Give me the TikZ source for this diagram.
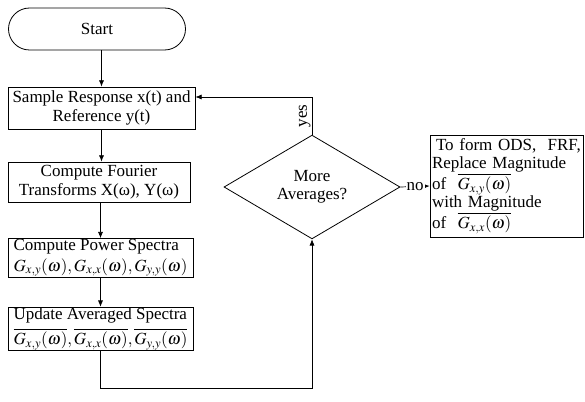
\documentclass[tikz,border=0pt]{standalone}
\usepackage{amsmath,amssymb}
\usepackage{mathptmx}
\usepackage{fontspec}
\setmainfont{Liberation Serif}
\usepackage{tikz}
\usetikzlibrary{calc, arrows.meta, shapes.geometric}
\tikzset{>={Latex[width=1.8mm,length=2.2mm]}}
\tikzset{
	flowbox/.style={draw, line width=0.8pt, inner sep=2pt, font=\fontsize{17}{18.5}\selectfont},
	flowline/.style={line width=0.7pt},
	flowlabel/.style={font=\fontsize{17}{18.5}\selectfont, inner sep=1pt}
}

\begin{document}
\begin{tikzpicture}[x=1pt,y=-1pt]
	\useasboundingbox (0,0) rectangle (585,401);
	\node[flowbox, rounded corners=21pt, minimum width=177pt, minimum height=42pt] (start) at (97,29) {Start};
	\node[flowbox, minimum width=187pt, minimum height=42pt, align=center] (sample) at (101.5,108) {Sample Response x(t) and\\Reference y(t)};
	\node[flowbox, minimum width=182pt, minimum height=40pt, align=center] (fourier) at (99,182) {Compute Fourier\\Transforms X(ω), Y(ω)};
	\node[flowbox, inner ysep=1pt, minimum width=185pt, minimum height=38pt, align=left] (power) at (100.5,258) {Compute Power Spectra\\[2pt]$G_{x,y}(\omega), G_{x,x}(\omega), G_{y,y}(\omega)$};
	\node[flowbox, inner ysep=1pt, minimum width=185pt, minimum height=42pt, align=left] (update) at (100.5,329) {Update Averaged Spectra\\[4pt]$\overline{G_{x,y}(\omega)}, \overline{G_{x,x}(\omega)}, \overline{G_{y,y}(\omega)}$};
	\node[flowbox, diamond, minimum width=176pt, minimum height=74pt, inner sep=0pt, align=center] (more) at (312,187) {More\\Averages?};
	\node[flowbox, minimum width=153pt, minimum height=102pt, text width=149pt, align=left] (form) at (506.5,186) {\hspace{4pt}To form ODS,\ \ FRF,\\Replace Magnitude\\of\ \ $\overline{G_{x,y}(\omega)}$\\with Magnitude\\of\ \ $\overline{G_{x,x}(\omega)}$};
	\coordinate (turn) at (312,388);

	% main chain
	\draw[flowline,->] (start.south -| sample.north) -- (sample.north);
	\draw[flowline,->] (sample.south) -- (sample.south |- fourier.north);
	\draw[flowline,->] (fourier.south -| power.north) -- (power.north);
	\draw[flowline,->] (power.south) -- (update.north);
	% averaging loop
	\draw[flowline,->] (update.south) |- (turn) -- (more.south);
	\draw[flowline,->] (more.north) |- node[flowlabel, pos=0.25, rotate=90, above]{yes} ([yshift=11pt]sample.east);
	\draw[flowline,->] (more.east) -- node[flowlabel, fill=white]{no} (form.west);
\end{tikzpicture}
\end{document}
